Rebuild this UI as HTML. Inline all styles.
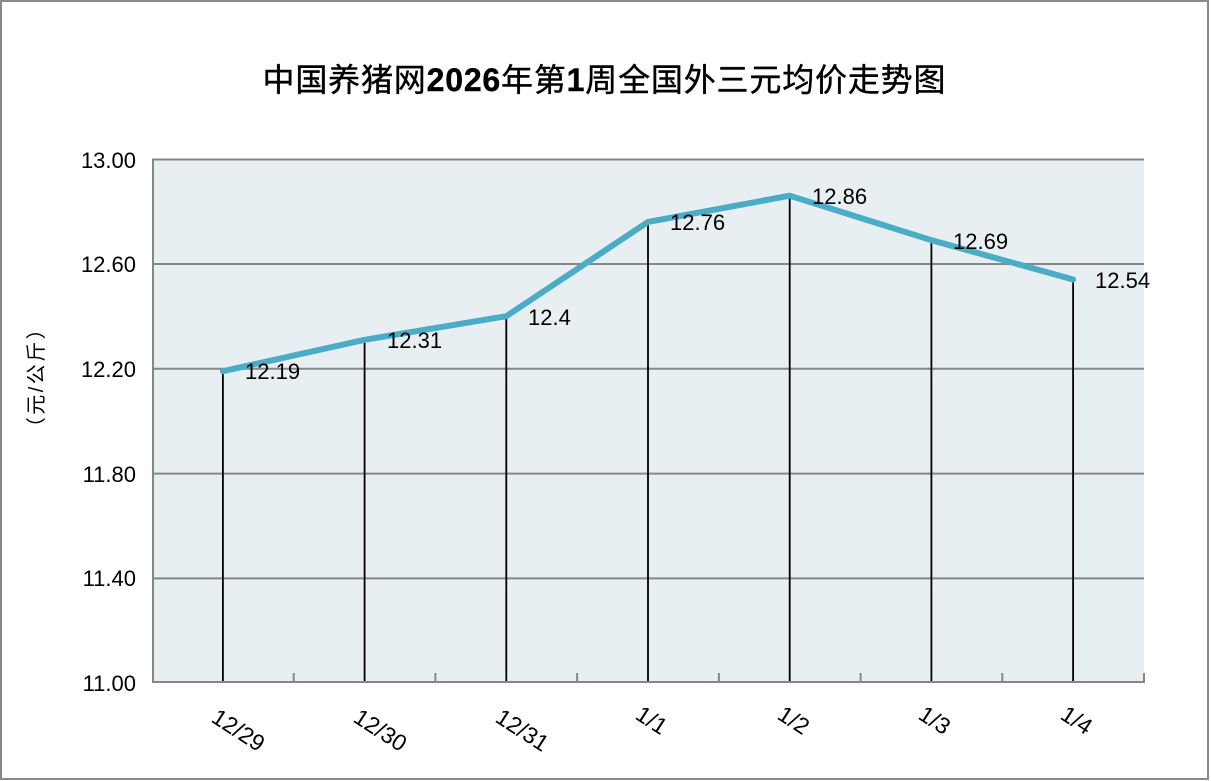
<!DOCTYPE html>
<html>
<head>
<meta charset="utf-8">
<style>
  html, body { margin:0; padding:0; background:#fff; }
  svg { display:block; }
  text { font-family: "Liberation Sans", "Noto Sans CJK SC", sans-serif; fill:#000; }
</style>
</head>
<body>
<svg width="1211" height="781" viewBox="0 0 1211 781" xmlns="http://www.w3.org/2000/svg">
  <!-- outer border -->
  <rect x="1" y="1" width="1207" height="778" fill="#fff" stroke="#898989" stroke-width="2"/>

  <!-- title -->
  <text x="604" y="91" text-anchor="middle" font-size="32" textLength="683" lengthAdjust="spacing" stroke="#000" stroke-width="0.4"><tspan>中国养猪网</tspan><tspan font-weight="bold">2026</tspan><tspan>年第</tspan><tspan font-weight="bold">1</tspan><tspan>周全国外三元均价走势图</tspan></text>

  <!-- plot area -->
  <rect x="152" y="159" width="992" height="524" fill="#E8EFF3"/>

  <!-- gridlines -->
  <g stroke="#878787" stroke-width="2">
    <line x1="152" y1="159.5" x2="1144" y2="159.5"/>
    <line x1="152" y1="264" x2="1144" y2="264"/>
    <line x1="152" y1="368.8" x2="1144" y2="368.8"/>
    <line x1="152" y1="473.6" x2="1144" y2="473.6"/>
    <line x1="152" y1="578.4" x2="1144" y2="578.4"/>
  </g>

  <!-- drop lines -->
  <g stroke="#000" stroke-width="1.8">
    <line x1="222.9" y1="371.2" x2="222.9" y2="682"/>
    <line x1="364.6" y1="339.8" x2="364.6" y2="682"/>
    <line x1="506.3" y1="316.2" x2="506.3" y2="682"/>
    <line x1="648.0" y1="221.9" x2="648.0" y2="682"/>
    <line x1="789.7" y1="195.7" x2="789.7" y2="682"/>
    <line x1="931.4" y1="240.2" x2="931.4" y2="682"/>
    <line x1="1073.1" y1="279.5" x2="1073.1" y2="682"/>
  </g>

  <!-- axes -->
  <g stroke="#878787" stroke-width="2">
    <line x1="153" y1="159" x2="153" y2="683"/>
    <line x1="152" y1="682" x2="1145" y2="682"/>
    <line x1="293.7" y1="673" x2="293.7" y2="682"/>
    <line x1="435.4" y1="673" x2="435.4" y2="682"/>
    <line x1="577.1" y1="673" x2="577.1" y2="682"/>
    <line x1="718.9" y1="673" x2="718.9" y2="682"/>
    <line x1="860.6" y1="673" x2="860.6" y2="682"/>
    <line x1="1002.3" y1="673" x2="1002.3" y2="682"/>
    <line x1="1144" y1="673" x2="1144" y2="682"/>
  </g>

  <!-- series line -->
  <polyline fill="none" stroke="#4BACC6" stroke-width="6" stroke-linejoin="round" stroke-linecap="round"
    points="222.9,371.2 364.6,339.8 506.3,316.2 648.0,221.9 789.7,195.7 931.4,240.2 1073.1,279.5"/>

  <!-- y tick labels -->
  <g font-size="22" text-anchor="end">
    <text x="136" y="168">13.00</text>
    <text x="136" y="272">12.60</text>
    <text x="136" y="377">12.20</text>
    <text x="136" y="482">11.80</text>
    <text x="136" y="586">11.40</text>
    <text x="136" y="691">11.00</text>
  </g>

  <!-- y axis title -->
  <g transform="translate(43,377) rotate(-90)">
    <text x="0" y="0" text-anchor="middle" font-size="20" letter-spacing="2.5" fill="#111">（元/公斤）</text>
  </g>

  <!-- data labels -->
  <g font-size="22">
    <text x="245" y="379">12.19</text>
    <text x="387" y="348">12.31</text>
    <text x="528" y="325">12.4</text>
    <text x="670" y="230">12.76</text>
    <text x="812" y="204">12.86</text>
    <text x="953" y="249">12.69</text>
    <text x="1095" y="288">12.54</text>
  </g>

  <!-- x tick labels -->
  <g font-size="23">
    <text transform="translate(210,721) rotate(33)">12/29</text>
    <text transform="translate(352,721) rotate(33)">12/30</text>
    <text transform="translate(494,721) rotate(33)">12/31</text>
    <text transform="translate(634,718) rotate(33)">1/1</text>
    <text transform="translate(776,718) rotate(33)">1/2</text>
    <text transform="translate(917,718) rotate(33)">1/3</text>
    <text transform="translate(1059,718) rotate(33)">1/4</text>
  </g>
</svg>
</body>
</html>
